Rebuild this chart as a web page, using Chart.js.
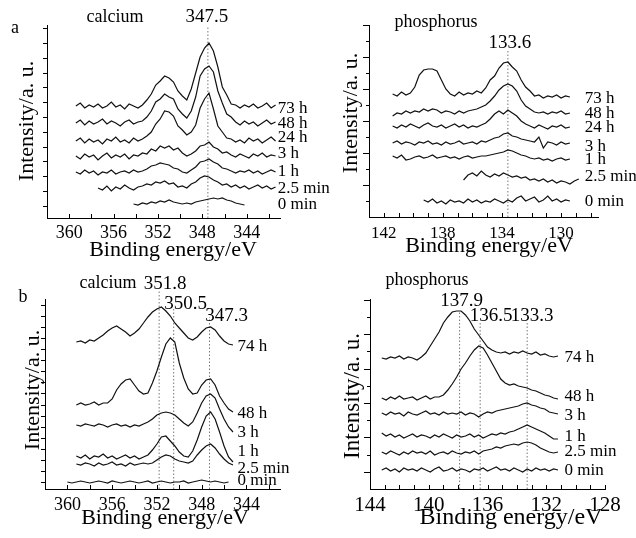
<!DOCTYPE html>
<html>
<head>
<meta charset="utf-8">
<script src="https://cdn.jsdelivr.net/npm/chart.js@4/dist/chart.umd.min.js"></script>
<style>
  html, body { margin: 0; background: #fff; }
  #wrap { position: relative; width: 636px; height: 538px; overflow: hidden; }
  canvas { position: absolute; }
</style>
</head>
<body>
<div id="wrap">
  <canvas id="cA" width="345" height="269" style="left:0;top:0"></canvas>
  <canvas id="cB" width="318" height="269" style="left:318px;top:0"></canvas>
  <canvas id="cC" width="345" height="269" style="left:0;top:269px"></canvas>
  <canvas id="cD" width="318" height="269" style="left:318px;top:269px"></canvas>
</div>
<script>
// XPS spectra (a: calcium / phosphorus, b: calcium / phosphorus), stacked with offsets, intensity in a.u.
Chart.defaults.font.family = "'Liberation Serif', 'Times New Roman', serif";

// ---- panel a, calcium
const eA = [359.4,359.0,358.6,358.2,357.8,357.4,357.0,356.6,356.2,355.8,355.4,355.0,354.6,354.2,353.8,353.4,353.0,352.6,352.2,351.8,351.4,351.0,350.6,350.2,349.8,349.4,349.0,348.6,348.2,347.8,347.4,347.0,346.6,346.2,345.8,345.4,345.0,344.6,344.2,343.8,343.4,343.0,342.6,342.2,341.8,341.4];
const a73h = [112,115,110,113,111,114,110,112,116,111,113,109,114,112,110,113,118,124,133,137,142,140,136,127,122,118,129,145,161,170,175,167,151,131,123,114,113,110,113,111,114,110,112,115,110,113];
const a48h = [95,98,93,97,94,96,99,94,97,95,92,96,98,94,96,97,101,107,116,119,124,121,119,109,104,100,107,121,142,149,152,146,127,115,104,101,96,93,97,94,96,92,95,98,94,96];
const a24h = [77,80,75,79,76,78,74,79,77,81,76,78,75,80,77,79,82,86,94,99,107,106,102,92,88,83,86,93,110,119,125,109,92,86,80,79,76,78,75,80,77,79,75,78,81,77];
const a3h = [62,59,64,61,63,58,62,65,60,63,61,64,59,63,62,65,64,69,67,72,70,72,68,70,65,62,64,67,72,73,76,71,69,65,66,63,61,64,62,60,64,62,65,61,63,62];
const a1h = [46,44,48,45,47,43,46,45,48,44,46,47,45,48,46,47,49,52,53,55,54,53,50,49,46,45,48,51,56,57,59,56,54,50,49,47,45,47,46,48,45,47,44,46,48,46];
const a25m = [null,null,null,null,null,30,28,32,27,31,29,33,30,28,31,32,34,33,36,35,37,34,35,31,32,30,34,36,40,42,41,38,36,33,34,31,33,30,32,29,31,33,30,32,29,31];
const a0m = [null,null,null,null,null,null,null,null,null,null,null,null,null,14,13,15,14,16,15,17,16,18,16,15,14,15,14,16,17,18,19,20,19,20,18,17,15,14,13,null,null,null,null,null,null,null];
const tagsA = ["73 h","48 h","24 h","3 h","1 h","2.5 min","0 min"];
const peaksA = [347.5], peakTopA = [191];
const xTicksA = [362,360,358,356,354,352,350,348,346,344,342], xLabelsA = [360,356,352,348,344];
const yTicksA = [12,27,42,57,71,86,101,116,131,145,160,175,190];

// ---- panel a, phosphorus
const eB = [141.4,141.1,140.8,140.5,140.2,139.9,139.6,139.3,139.0,138.7,138.4,138.1,137.8,137.5,137.2,136.9,136.6,136.3,136.0,135.7,135.4,135.1,134.8,134.5,134.2,133.9,133.6,133.3,133.0,132.7,132.4,132.1,131.8,131.5,131.2,130.9,130.6,130.3,130.0,129.7,129.4,129.1,128.8,128.5];
const b73h = [123,121,125,122,124,130,142,147,148,148,146,137,128,123,121,125,122,124,123,126,124,129,137,141,149,154,155,150,146,137,130,126,121,122,119,121,120,122,119,121,120,null,null,null];
const b48h = [101,104,103,106,104,106,105,108,106,108,107,104,106,105,103,106,104,106,107,108,110,112,116,121,127,131,133,131,126,117,111,108,105,104,105,103,105,104,106,103,104,null,null,null];
const b24h = [91,89,92,90,93,91,89,92,94,91,90,92,89,91,93,90,92,89,91,90,92,94,98,103,106,103,107,104,101,96,93,91,89,92,90,88,91,90,92,89,90,null,null,null];
const b3h = [74,76,73,75,74,72,75,74,76,73,74,72,75,73,74,76,73,74,75,73,76,75,77,79,80,83,84,81,80,78,77,76,75,80,69,75,74,72,75,73,74,null,null,null];
const b1h = [61,59,62,57,58,60,61,59,60,62,59,60,61,59,60,58,60,61,59,60,61,61,62,63,64,65,67,66,64,62,61,59,58,59,57,58,56,58,59,57,58,null,null,null];
const b25m = [null,null,null,null,null,null,null,null,null,null,null,null,null,null,null,null,37,42,44,41,46,42,40,43,41,44,42,40,41,39,40,37,38,36,38,35,37,34,36,35,33,36,38,null];
const b0m = [null,null,null,null,null,null,null,17,15,18,14,16,13,17,15,16,14,18,15,17,14,16,15,18,16,14,17,15,19,21,16,18,20,15,17,21,16,18,15,17,16,null,null,null];
const tagsB = ["73 h","48 h","24 h","3 h","1 h","2.5 min","0 min"];
const peaksB = [133.6], peakTopB = [167];
const xTicksB = [143,142,141,140,139,138,137,136,135,134,133,132,131,130,129,128], xLabelsB = [142,138,134,130];
const yTicksB = [16,32,48,64,80,96,112,128,144,160,176,192], yMajorB = [32,64,96,128,160,192];

// ---- panel b, calcium
const eC = [360.0,359.6,359.2,358.8,358.4,358.0,357.6,357.2,356.8,356.4,356.0,355.6,355.2,354.8,354.4,354.0,353.6,353.2,352.8,352.4,352.0,351.6,351.2,350.8,350.4,350.0,349.6,349.2,348.8,348.4,348.0,347.6,347.2,346.8,346.4,346.0,345.6,345.2,344.8];
const c74h = [null,null,147,148,146,149,148,151,154,158,161,163,160,157,153,156,160,166,172,177,180,182,178,173,166,161,156,151,149,152,157,161,162,159,153,148,145,144,null];
const c48h = [null,null,84,86,84,85,87,84,86,86,90,99,105,109,110,104,98,95,96,106,118,132,145,151,147,126,111,100,95,96,104,109,110,104,93,86,80,77,null];
const c3h = [null,null,64,63,65,64,63,65,64,62,64,65,63,64,62,64,63,65,67,70,74,76,77,76,74,70,66,63,67,76,86,93,95,91,80,70,62,57,null];
const c1h = [null,null,33,31,34,30,33,32,35,31,33,30,32,34,31,33,30,32,34,39,45,52,53,48,43,37,33,32,38,49,62,73,77,70,57,43,32,27,null];
const c25m = [null,null,25,24,26,25,23,26,24,25,27,24,25,23,26,24,25,26,25,26,29,32,34,33,30,28,27,26,28,34,39,43,45,41,35,30,26,24,null];
const c0m = [7,6,7,8,7,6,7,8,7,6,8,7,6,7,8,7,6,7,8,6,7,8,7,6,7,7,8,6,7,8,9,8,7,8,7,6,7,null,null];
const tagsC = ["74 h","48 h","3 h","1 h","2.5 min","0 min"];
const peaksC = [351.8,350.5,347.3], peakTopC = [198,182,172];
const xTicksC = [362,360,358,356,354,352,350,348,346,344,342], xLabelsC = [360,356,352,348,344];
const yTicksC = [7,18,29,40,51,62,73,84,96,107,118,129,140,151,162,173,184];

// ---- panel b, phosphorus
const eD = [143.2,142.9,142.6,142.3,142.0,141.7,141.4,141.1,140.8,140.5,140.2,139.9,139.6,139.3,139.0,138.7,138.4,138.1,137.8,137.5,137.2,136.9,136.6,136.3,136.0,135.7,135.4,135.1,134.8,134.5,134.2,133.9,133.6,133.3,133.0,132.7,132.4,132.1,131.8,131.5,131.2];
const d74h = [131,130,132,131,133,130,132,131,129,132,136,143,150,157,166,172,177,178,178,174,168,160,154,148,142,139,137,136,137,135,137,136,138,136,135,137,134,135,133,132,133];
const d48h = [91,89,92,90,93,90,91,92,89,91,93,90,92,92,94,99,105,112,120,126,133,139,143,141,134,126,118,110,106,104,105,103,102,101,99,98,96,94,93,91,90];
const d3h = [76,74,77,75,76,73,77,75,74,76,78,75,76,74,77,75,76,75,77,74,76,75,72,75,77,76,78,79,80,81,82,83,85,86,84,83,81,80,77,76,75];
const d1h = [56,53,55,52,54,51,53,55,52,54,53,51,54,52,55,53,51,54,52,53,55,52,54,51,53,55,54,56,55,57,58,60,62,64,62,60,58,56,53,50,50];
const d25m = [37,35,38,36,34,37,35,38,36,37,35,38,34,36,37,35,38,36,35,37,36,38,35,38,39,40,42,41,43,44,45,44,46,47,46,44,41,39,37,36,37];
const d0m = [19,21,18,20,17,21,19,20,18,21,19,17,20,22,18,19,21,18,20,19,17,20,19,21,18,20,22,19,20,18,21,19,17,20,18,21,19,20,18,20,19];
const tagsD = ["74 h","48 h","3 h","1 h","2.5 min","0 min"];
const peaksD = [137.9,136.5,133.3], peakTopD = [177,167,167];
const xTicksD = [144,143,142,141,140,139,138,137,136,135,134,133,132,131,130,129,128], xLabelsD = [144,140,136,132,128];
const yTicksD = [17,34,52,69,86,103,120,138,155,172,189], yMajorD = [17,52,86,120,155,189];

const SERIF = "'Liberation Serif', 'Times New Roman', serif";

// tick marks (x inward, y outward) + all free text
const ink = {
  id: "ink",
  afterDraw(chart, _args, o) {
    const {ctx, scales: {x, y}} = chart;
    ctx.save();
    ctx.strokeStyle = "#000"; ctx.lineWidth = 1;
    ctx.beginPath();
    x.ticks.forEach(t => { const px = Math.round(x.getPixelForValue(t.value)) + 0.5; ctx.moveTo(px, x.top); ctx.lineTo(px, x.top - 4); });
    y.ticks.forEach(t => {
      const py = Math.round(y.getPixelForValue(t.value)) + 0.5;
      const len = o.major ? (o.major.includes(t.value) ? 6 : 3) : 4;
      ctx.moveTo(y.right, py); ctx.lineTo(y.right - len, py);
    });
    ctx.stroke();
    ctx.fillStyle = "#000"; ctx.textBaseline = "middle";
    ctx.font = "17px " + SERIF; ctx.textAlign = "left";
    o.tags.forEach((t, i) => ctx.fillText(t, x.getPixelForValue(o.tagX), y.getPixelForValue(o.tagY[i])));
    o.notes.forEach(n => {
      ctx.save();
      ctx.font = n.size + "px " + SERIF; ctx.textAlign = "center";
      const px = n.e != null ? x.getPixelForValue(n.e) + (n.dx || 0) : n.x;
      ctx.translate(px, n.y);
      if (n.rot) ctx.rotate(-Math.PI / 2);
      ctx.fillText(n.t, 0, 0);
      ctx.restore();
    });
    ctx.restore();
  }
};

function panel(id, p) {
  const cv = document.getElementById(id), W = cv.width, H = cv.height;
  const [L, T, R, B] = p.box;
  const datasets = p.traces.map(vals => ({
    data: p.energy.map((e, i) => ({x: e, y: vals[i]})).filter(pt => pt.y !== null),
    borderColor: "#111", borderWidth: 1.2, pointRadius: 0, fill: false, tension: 0
  }));
  p.peaks.forEach((e, i) => datasets.push({
    data: [{x: e, y: 0}, {x: e, y: p.peakTop[i]}],
    borderColor: "#777", borderWidth: 1, borderDash: [1.5, 2], pointRadius: 0, clip: false
  }));
  new Chart(cv, {
    type: "line",
    data: {datasets},
    options: {
      responsive: false, animation: false, events: [],
      layout: {padding: {left: 0, top: T, right: W - R, bottom: 0}},
      plugins: {legend: {display: false}, tooltip: {enabled: false},
        ink: {tags: p.tags, tagX: p.tagX, tagY: p.tagY, major: p.yMajor, notes: p.notes}},
      scales: {
        x: {type: "linear", reverse: true, min: p.xMin, max: p.xMax,
          afterBuildTicks: s => { s.ticks = p.xTicks.map(v => ({value: v})); },
          afterFit: s => { s.height = H - B; },
          grid: {display: false, drawTicks: false},
          border: {color: "#000", width: 1},
          ticks: {autoSkip: false, maxRotation: 0, minRotation: 0, padding: p.tickPad, color: "#000",
            font: {family: SERIF, size: p.tickSize},
            callback: v => p.xLabels.includes(v) ? String(v) : ""}},
        y: {type: "linear", min: 0, max: p.yMax,
          afterBuildTicks: s => { s.ticks = p.yTicks.map(v => ({value: v})); },
          afterFit: s => { s.width = L; },
          grid: {display: false, drawTicks: false},
          border: {color: "#000", width: 1},
          ticks: {display: false}}
      }
    },
    plugins: [ink]
  });
}

panel("cA", {energy: eA, traces: [a73h, a48h, a24h, a3h, a1h, a25m, a0m],
  peaks: peaksA, peakTop: peakTopA, box: [47, 25, 280, 218], xMin: 341, xMax: 362, yMax: 193,
  xTicks: xTicksA, xLabels: xLabelsA, yTicks: yTicksA, tickSize: 18, tickPad: 4,
  tags: tagsA, tagX: 341.2, tagY: [109, 94, 80, 64, 46, 29, 13],
  notes: [{t: "a", x: 15, y: 28, size: 18}, {t: "calcium", x: 115, y: 17, size: 18},
    {t: "347.5", e: 347.5, dx: -1, y: 17, size: 19},
    {t: "Intensity/a. u.", x: 27, y: 121, size: 22, rot: true},
    {t: "Binding energy/eV", x: 173, y: 250, size: 22}]});

panel("cB", {energy: eB, traces: [b73h, b48h, b24h, b3h, b1h, b25m, b0m],
  peaks: peaksB, peakTop: peakTopB, box: [51, 25, 280, 217], xMin: 127.5, xMax: 143, yMax: 192,
  xTicks: xTicksB, xLabels: xLabelsB, yTicks: yTicksB, yMajor: yMajorB, tickSize: 17, tickPad: 6,
  tags: tagsB, tagX: 128.4, tagY: [118, 103, 89, 70, 57, 40, 15],
  notes: [{t: "phosphorus", x: 118, y: 22, size: 18},
    {t: "133.6", e: 133.6, dx: 2, y: 43, size: 19},
    {t: "Intensity/a. u.", x: 33, y: 113, size: 22, rot: true},
    {t: "Binding energy/eV", x: 171, y: 246, size: 22}]});

panel("cC", {energy: eC, traces: [c74h, c48h, c3h, c1h, c25m, c0m],
  peaks: peaksC, peakTop: peakTopC, box: [45, 30, 280, 220], xMin: 341, xMax: 362, yMax: 190,
  xTicks: xTicksC, xLabels: xLabelsC, yTicks: yTicksC, tickSize: 18, tickPad: 5,
  tags: tagsC, tagX: 344.8, tagY: [142, 75, 56, 37, 20, 8],
  notes: [{t: "b", x: 23, y: 28, size: 18}, {t: "calcium", x: 108, y: 14, size: 18},
    {t: "351.8", e: 351.8, dx: 6, y: 15, size: 19},
    {t: "350.5", e: 350.5, dx: 12, y: 35, size: 19},
    {t: "347.3", e: 347.3, dx: 17, y: 47, size: 19},
    {t: "Intensity/a. u.", x: 33, y: 121, size: 22, rot: true},
    {t: "Binding energy/eV", x: 165, y: 249, size: 22}]});

panel("cD", {energy: eD, traces: [d74h, d48h, d3h, d1h, d25m, d0m],
  peaks: peaksD, peakTop: peakTopD, box: [52, 30, 287, 220], xMin: 128, xMax: 144, yMax: 190,
  xTicks: xTicksD, xLabels: xLabelsD, yTicks: yTicksD, yMajor: yMajorD, tickSize: 21, tickPad: 4,
  tags: tagsD, tagX: 130.76, tagY: [131, 92, 73, 52, 37, 18],
  notes: [{t: "phosphorus", x: 109, y: 11, size: 18},
    {t: "137.9", e: 137.9, dx: 2, y: 32, size: 19},
    {t: "136.5", e: 136.5, dx: 11, y: 47, size: 19},
    {t: "133.3", e: 133.3, dx: 5, y: 47, size: 19},
    {t: "Intensity/a. u.", x: 35, y: 127, size: 23, rot: true},
    {t: "Binding energy/eV", x: 193, y: 249, size: 24}]});
</script>
</body>
</html>
